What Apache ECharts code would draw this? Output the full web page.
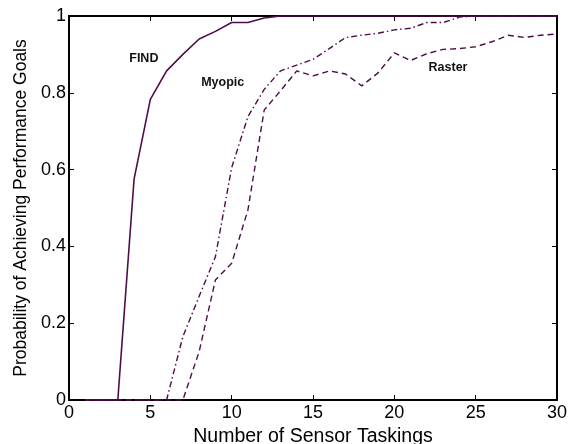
<!DOCTYPE html>
<html>
<head>
<meta charset="utf-8">
<script src="https://cdn.jsdelivr.net/npm/echarts@6/dist/echarts.min.js"></script>
<style>
  html, body { margin: 0; padding: 0; background: #fff; }
  #chart { width: 571px; height: 444px; }
</style>
</head>
<body>
<div id="chart"></div>
<script>
// sensor taskings 1..30
var taskings = [1,2,3,4,5,6,7,8,9,10,11,12,13,14,15,16,17,18,19,20,21,22,23,24,25,26,27,28,29,30];

var findVals   = [0,0,0,0.575,0.783,0.857,0.90,0.94,0.96,0.983,0.983,0.995,1,1,1,1,1,1,1,1,1,1,1,1,1,1,1,1,1,1];
var myopicVals = [0,0,0,0,0,0,0.165,0.27,0.373,0.605,0.738,0.809,0.857,0.872,0.887,0.915,0.944,0.95,0.955,0.964,0.968,0.983,0.983,0.997,1,1,1,1,1,1];
var rasterVals = [0,0,0,0,0,0,0,0.126,0.3125,0.356,0.495,0.755,0.805,0.857,0.844,0.857,0.849,0.818,0.852,0.904,0.884,0.902,0.913,0.915,0.92,0.933,0.95,0.944,0.95,0.953];

// label anchors in data space
var findLabel   = [4.6, 0.89];
var myopicLabel = [9.45, 0.826];
var rasterLabel = [23.3, 0.865];

var lineColor = '#4d0d4b';
var font = 'Liberation Sans, Arial, sans-serif';

function pairs(vals) {
  return taskings.map(function (t, i) { return [t, vals[i]]; });
}

function tag(text, coord) {
  return {
    symbol: 'circle',
    symbolSize: 2,
    silent: true,
    itemStyle: { color: 'rgba(0,0,0,0)' },
    label: {
      show: true,
      position: 'inside',
      formatter: text,
      color: '#111',
      fontWeight: 'bold',
      fontSize: 12.5,
      fontFamily: font
    },
    data: [{ coord: coord }]
  };
}

var chart = echarts.init(document.getElementById('chart'));

var frameLine = { show: true, onZero: false, lineStyle: { color: '#000', width: 2 } };
var frameTick = { show: true, inside: true, length: 5, lineStyle: { color: '#000', width: 1 } };

var option = {
  animation: false,
  grid: { left: 69, right: 14, top: 16, bottom: 44, outerBoundsMode: 'none', containLabel: false },
  xAxis: [
    {
      type: 'value', min: 0, max: 30, interval: 5,
      name: 'Number of Sensor Taskings', nameLocation: 'middle', nameGap: 23,
      nameTextStyle: { color: '#000', fontSize: 19.5, fontFamily: font },
      axisLine: frameLine,
      axisTick: frameTick,
      axisLabel: { margin: 4, color: '#000', fontSize: 18, fontFamily: font },
      splitLine: { show: false }
    },
    {
      type: 'value', min: 0, max: 30, interval: 5, position: 'top',
      axisLine: frameLine,
      axisTick: frameTick,
      axisLabel: { show: false },
      splitLine: { show: false }
    }
  ],
  yAxis: [
    {
      type: 'value', min: 0, max: 1, interval: 0.2,
      name: 'Probability of Achieving Performance Goals', nameLocation: 'middle', nameGap: 39,
      nameTextStyle: { color: '#000', fontSize: 17.5, fontFamily: font },
      axisLine: frameLine,
      axisTick: frameTick,
      axisLabel: { margin: 3, color: '#000', fontSize: 18, fontFamily: font },
      splitLine: { show: false }
    },
    {
      type: 'value', min: 0, max: 1, interval: 0.2, position: 'right',
      axisLine: frameLine,
      axisTick: frameTick,
      axisLabel: { show: false },
      splitLine: { show: false }
    }
  ],
  series: [
    {
      name: 'FIND', type: 'line', showSymbol: false, data: pairs(findVals),
      lineStyle: { color: lineColor, width: 1.6, type: 'solid' },
      markPoint: tag('FIND', findLabel)
    },
    {
      name: 'Myopic', type: 'line', showSymbol: false, data: pairs(myopicVals),
      lineStyle: { color: lineColor, width: 1.4, type: [6, 3, 1.5, 3] },
      markPoint: tag('Myopic', myopicLabel)
    },
    {
      name: 'Raster', type: 'line', showSymbol: false, data: pairs(rasterVals),
      lineStyle: { color: lineColor, width: 1.4, type: [6, 4] },
      markPoint: tag('Raster', rasterLabel)
    }
  ]
};

chart.setOption(option);
</script>
</body>
</html>
